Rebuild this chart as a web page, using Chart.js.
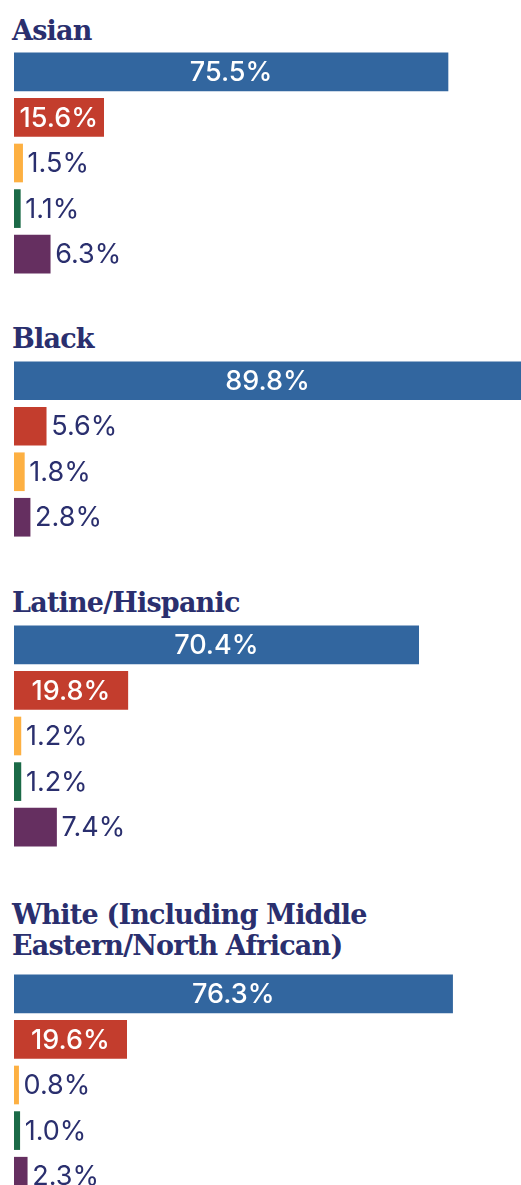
<!DOCTYPE html>
<html>
<head>
<meta charset="utf-8">
<script src="https://cdn.jsdelivr.net/npm/chart.js@4.4.1/dist/chart.umd.min.js"></script>
<style>
  html, body { margin: 0; padding: 0; background: #fff; overflow: hidden; }
  body { width: 521px; height: 1185px; position: relative; }
  .title {
    position: absolute; left: 12px; margin: 0;
    font-family: "DejaVu Serif", serif; font-weight: bold;
    font-size: 27px; line-height: 31px; letter-spacing: -0.8px;
    color: #2a2f6e;
  }
  .box { position: absolute; left: 0; width: 521px; }
</style>
</head>
<body>

<div class="title" id="t0"></div>
<div class="box" id="b0"><canvas id="c0"></canvas></div>
<div class="title" id="t1"></div>
<div class="box" id="b1"><canvas id="c1"></canvas></div>
<div class="title" id="t2"></div>
<div class="box" id="b2"><canvas id="c2"></canvas></div>
<div class="title" id="t3"></div>
<div class="box" id="b3"><canvas id="c3"></canvas></div>

<script>
// --- DATA ---
const groups = ["Asian", "Black", "Latine/Hispanic", "White (Including Middle Eastern/North African)"];
const responses = ["Response 1", "Response 2", "Response 3", "Response 4", "Response 5"];

const asianValues  = [75.5, 15.6, 1.5, 1.1, 6.3];
const blackValues  = [89.8, 5.6, 1.8, null, 2.8];   // no 4th bar for this group
const latineValues = [70.4, 19.8, 1.2, 1.2, 7.4];
const whiteValues  = [76.3, 19.6, 0.8, 1.0, 2.3];

const groupValues = [asianValues, blackValues, latineValues, whiteValues];

// --- STYLE ---
const barColors = ["#32669f", "#c33d2d", "#fdb042", "#1b6a47", "#652f60"];
const labelColor = "#2a2f6e";
const X_MAX = 88.2;      // value at right edge of the page
const ROW = 45.5;        // px per bar row
const BAR = 38;          // bar thickness

// title top / chart top for each group
const titleTops = [15, 323, 587, 899];
const chartTops = [49, 358, 622, 971];

// draws the percentage in / next to each bar
const valueLabels = {
  id: "valueLabels",
  afterDatasetsDraw(chart) {
    const ctx = chart.ctx;
    const area = chart.chartArea;
    const ds = chart.data.datasets[0];
    ctx.save();
    ctx.textBaseline = "middle";
    chart.getDatasetMeta(0).data.forEach((bar, i) => {
      const text = ds.data[i].toFixed(1) + "%";
      const left = bar.base;
      const right = Math.min(bar.x, area.right);
      ctx.font = "500 27px Inter";
      const w = ctx.measureText(text).width;
      if (right - left > w + 6) {
        ctx.fillStyle = "#ffffff";
        ctx.textAlign = "center";
        ctx.fillText(text, (left + right) / 2, bar.y + 1);
      } else {
        ctx.font = "400 27px Inter";
        ctx.fillStyle = labelColor;
        ctx.textAlign = "left";
        ctx.fillText(text, right + 5, bar.y + 1);
      }
    });
    ctx.restore();
  }
};

groupValues.forEach((vals, g) => {
  // drop categories this group has no bar for
  const idx = vals.map((v, i) => i).filter(i => vals[i] !== null);
  const labels = idx.map(i => responses[i]);
  const data = idx.map(i => vals[i]);
  const colors = idx.map(i => barColors[i]);

  const title = document.getElementById("t" + g);
  if (g === 3) title.innerHTML = "White (Including Middle<br>Eastern/North African)";
  else title.textContent = groups[g];
  title.style.top = titleTops[g] + "px";

  const box = document.getElementById("b" + g);
  box.style.top = chartTops[g] + "px";
  const canvas = document.getElementById("c" + g);
  canvas.width = 521;
  canvas.height = Math.round(data.length * ROW);

  new Chart(canvas, {
    type: "bar",
    data: {
      labels: labels,
      datasets: [{
        data: data,
        backgroundColor: colors,
        borderWidth: 0,
        barThickness: BAR
      }]
    },
    options: {
      indexAxis: "y",
      responsive: false,
      animation: false,
      layout: { padding: { left: 14, right: 0, top: 0, bottom: 0 } },
      scales: {
        x: { display: false, min: 0, max: X_MAX },
        y: { display: false }
      },
      plugins: {
        legend: { display: false },
        tooltip: { enabled: false }
      }
    },
    plugins: [valueLabels]
  });
});
</script>
</body>
</html>
